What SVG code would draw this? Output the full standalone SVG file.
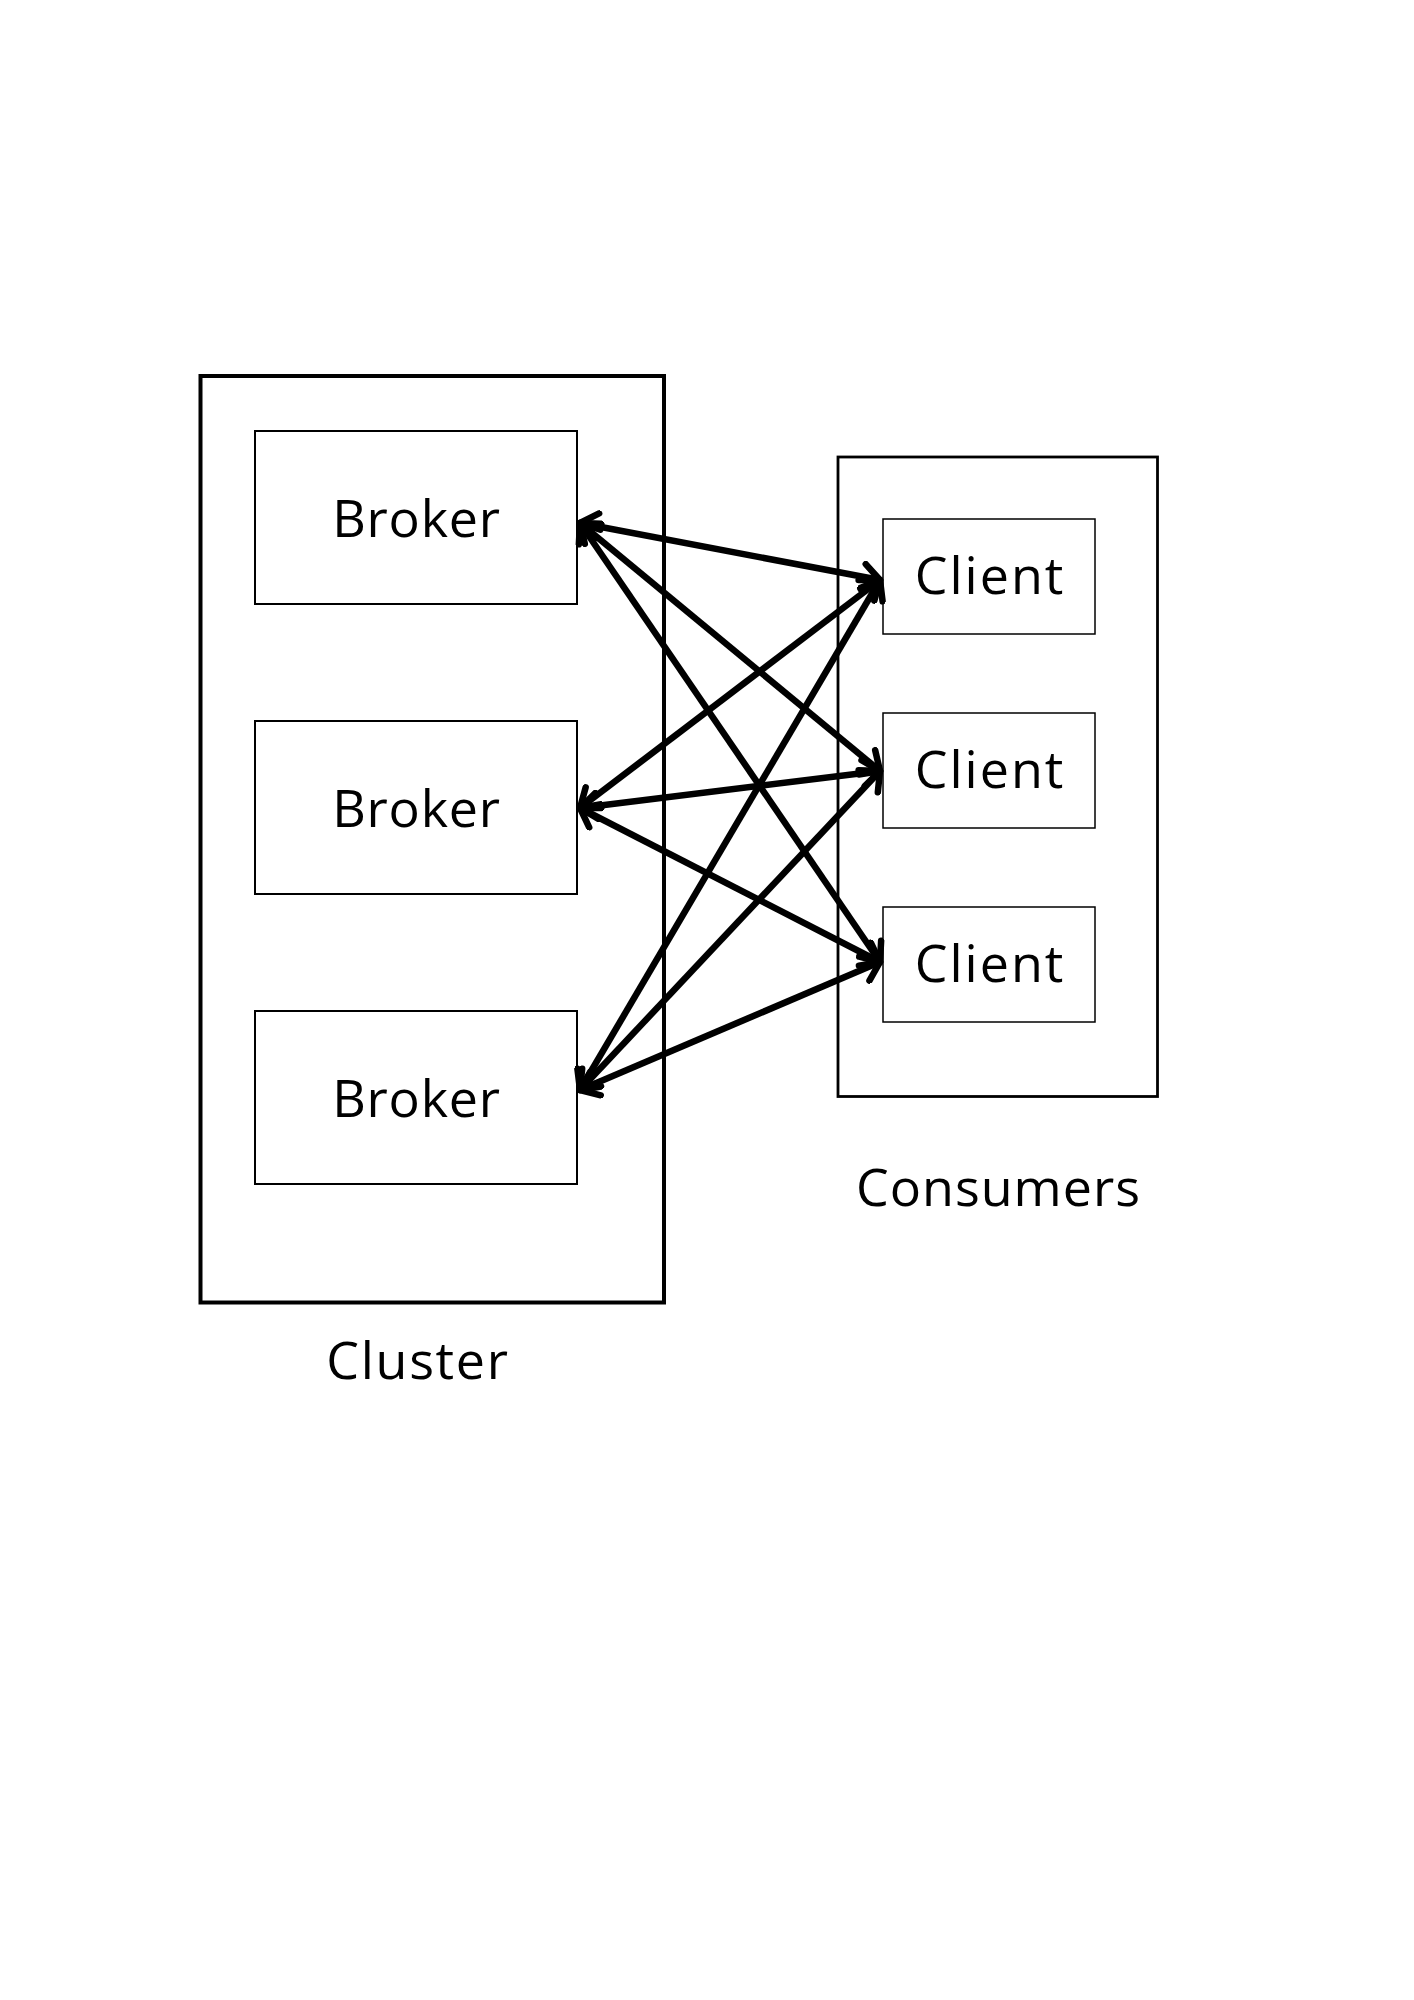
<svg xmlns="http://www.w3.org/2000/svg" width="1414" height="2000" viewBox="0 0 1414 2000">
<style>
  .lbl { font-family: "Open Sans", "Noto Sans", "Liberation Sans", sans-serif; font-size: 52px; fill: #000; text-anchor: middle; }
  .br { letter-spacing: 0.8px; }
  .cl { letter-spacing: 2px; }
  .cu { letter-spacing: 1.7px; }
  .co { letter-spacing: 1px; }
  .outer { fill: none; stroke: #000; }
  .box { fill: #fff; stroke: #000; }
  .conn { fill: none; stroke: #000; stroke-width: 6.5; stroke-linecap: butt; }
</style>
<defs>
  <marker id="ah" viewBox="-25 -16 30 32" refX="0" refY="0" markerWidth="30" markerHeight="32" markerUnits="userSpaceOnUse" orient="auto-start-reverse">
    <path d="M-17,-13 L0,0 L-17,13" fill="none" stroke="#000" stroke-width="6.5" stroke-linecap="round" stroke-linejoin="round"/>
  </marker>
</defs>
<rect width="1414" height="2000" fill="#fff"/>

<g id="cluster">
  <rect class="outer" x="200.5" y="376" width="463.5" height="926.5" stroke-width="4"/>
  <text class="lbl cu" x="418" y="1379">Cluster</text>
</g>
<g id="consumers">
  <rect class="outer" x="838" y="457" width="319.5" height="639.5" stroke-width="2.8"/>
  <text class="lbl co" x="998.5" y="1206">Consumers</text>
</g>

<g id="broker1">
  <rect class="box" x="255" y="431" width="322" height="173" stroke-width="2"/>
  <text class="lbl br" x="416.5" y="537">Broker</text>
</g>
<g id="broker2">
  <rect class="box" x="255" y="721" width="322" height="173" stroke-width="2"/>
  <text class="lbl br" x="416.5" y="827">Broker</text>
</g>
<g id="broker3">
  <rect class="box" x="255" y="1011" width="322" height="173" stroke-width="2"/>
  <text class="lbl br" x="416.5" y="1117">Broker</text>
</g>

<g id="client1">
  <rect class="box" x="883" y="519" width="212" height="115" stroke-width="1.5"/>
  <text class="lbl cl" x="990" y="594">Client</text>
</g>
<g id="client2">
  <rect class="box" x="883" y="713" width="212" height="115" stroke-width="1.5"/>
  <text class="lbl cl" x="990" y="788">Client</text>
</g>
<g id="client3">
  <rect class="box" x="883" y="907" width="212" height="115" stroke-width="1.5"/>
  <text class="lbl cl" x="990" y="982">Client</text>
</g>

<g id="connectors" class="conn" marker-start="url(#ah)" marker-end="url(#ah)">
  <line x1="580" y1="523" x2="880" y2="580"/>
  <line x1="580" y1="523" x2="880" y2="771"/>
  <line x1="580" y1="523" x2="880" y2="962"/>
  <line x1="580" y1="808" x2="880" y2="580"/>
  <line x1="580" y1="808" x2="880" y2="771"/>
  <line x1="580" y1="808" x2="880" y2="962"/>
  <line x1="580" y1="1090" x2="880" y2="580"/>
  <line x1="580" y1="1090" x2="880" y2="771"/>
  <line x1="580" y1="1090" x2="880" y2="962"/>
</g>
</svg>
